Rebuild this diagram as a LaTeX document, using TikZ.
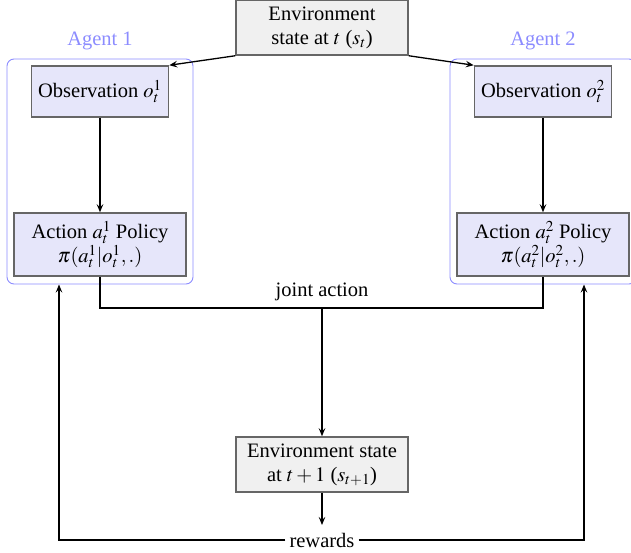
\documentclass[tikz,border=0pt]{standalone}
\usepackage{mathptmx}
\usepackage{fontspec}
\setmainfont{Liberation Serif}
\usetikzlibrary{arrows.meta}
\definecolor{boxline}{HTML}{666666}
\definecolor{envfill}{HTML}{F0F0F0}
\definecolor{agfill}{HTML}{E6E6FA}
\definecolor{agline}{HTML}{8C8CFF}
\begin{document}
\begin{tikzpicture}[x=1pt,y=-1pt,
  every node/.style={font=\fontsize{20.5}{24}\selectfont},
  envbox/.style={draw=boxline,line width=1.5pt,fill=envfill,align=center,inner sep=0pt},
  agbox/.style={draw=boxline,line width=1.5pt,fill=agfill,align=center,inner sep=0pt},
  agframe/.style={draw=agline,line width=0.9pt,rounded corners=7pt,minimum width=186pt,minimum height=225pt,inner sep=0pt},
  aglabel/.style={text=agline},
  arr/.style={-{Stealth[length=8pt,width=6.5pt,inset=3pt]},line width=1.3pt},
  ln/.style={line width=1.3pt}]
\useasboundingbox (0,0) rectangle (631,552);
\node[agframe] (frame1) at (100,171.5) {};
\node[agframe] (frame2) at (543,171.5) {};
\node[aglabel] (lab1) at (100,41) {Agent 1};
\node[aglabel] (lab2) at (543,41) {Agent 2};
\node[envbox,minimum width=172pt,minimum height=55pt] (env) at (322,27.5) {Environment\\state at $t$ ($s_t$)};
\node[agbox,minimum width=137pt,minimum height=51pt] (obs1) at (100,91.5) {Observation $o_t^1$};
\node[agbox,minimum width=137pt,minimum height=51pt] (obs2) at (543,91.5) {Observation $o_t^2$};
\node[agbox,minimum width=172pt,minimum height=63pt] (act1) at (100,244.5) {Action $a_t^1$ Policy\\$\pi(a_t^1|o_t^1,.)$};
\node[agbox,minimum width=172pt,minimum height=63pt] (act2) at (543,244.5) {Action $a_t^2$ Policy\\$\pi(a_t^2|o_t^2,.)$};
\node[envbox,minimum width=172pt,minimum height=55pt] (env2) at (322,464.5) {Environment state\\at $t+1$ ($s_{t+1}$)};
\node (ja) at (322,292) {joint action};
\node[fill=white,inner xsep=4pt] (rew) at (322,540) {rewards};
\coordinate (jc) at (322,308);
\coordinate (r1) at (59,284.5);
\coordinate (r2) at (584,284.5);
\coordinate (rb) at (322,525);
\draw[arr] (env.south west) -- (obs1.north east);
\draw[arr] (env.south east) -- (obs2.north west);
\draw[arr] (obs1) -- (act1);
\draw[arr] (obs2) -- (act2);
\draw[ln] (act1.south) |- (jc) -| (act2.south);
\draw[arr] (jc) -- (env2.north);
\draw[arr] (env2.south) -- (rb);
\draw[arr] (rew.west) -| (r1);
\draw[arr] (rew.east) -| (r2);
\end{tikzpicture}
\end{document}
